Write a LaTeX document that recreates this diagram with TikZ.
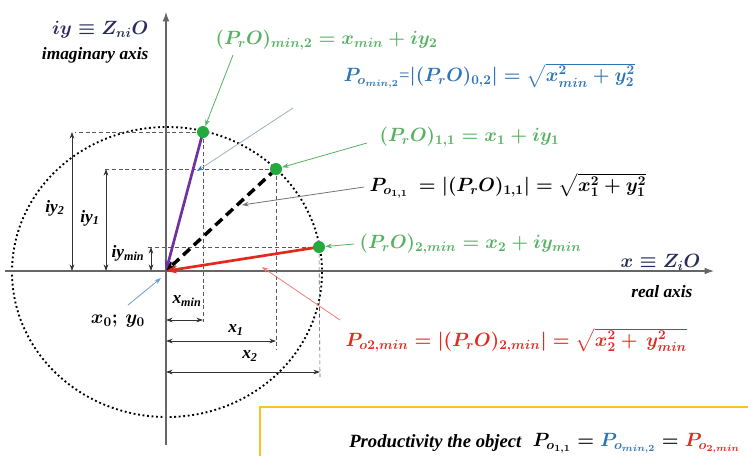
\documentclass[tikz,border=0pt]{standalone}
\usepackage{amsmath}
\usepackage{fontspec}
\setmainfont{Liberation Serif}
\usetikzlibrary{arrows.meta}
\definecolor{fgreen}{RGB}{84,178,96}
\definecolor{dgreen}{RGB}{34,170,60}
\definecolor{fblue}{RGB}{46,117,182}
\definecolor{fred}{RGB}{228,40,30}
\definecolor{navy}{RGB}{40,44,92}
\definecolor{fpurple}{RGB}{112,48,160}
\definecolor{fgold}{RGB}{250,196,30}
\tikzset{
  fml/.style={font=\fontsize{14}{16}\selectfont\boldmath, inner sep=1pt},
  lbl/.style={font=\fontsize{13}{15}\selectfont\bfseries\itshape, inner sep=1pt},
  dlbl/.style={font=\fontsize{13}{15}\selectfont\bfseries\itshape, inner sep=1pt},
  axis/.style={draw=gray!80!black, line width=0.8pt, -{Latex[length=7pt,width=5pt]}},
  guide/.style={draw=gray!70!black, densely dashed, line width=0.45pt},
  dim/.style={draw=black!80, line width=0.6pt, {Stealth[length=5pt,width=3.5pt]}-{Stealth[length=5pt,width=3.5pt]}},
  vdot/.style={circle, fill=dgreen, minimum size=9pt, inner sep=0pt},
  vec/.style={line width=2pt, -{Stealth[length=8pt,width=6pt]}},
  pointer/.style={line width=0.6pt, -{Stealth[length=5pt,width=3.5pt]}},
}
\begin{document}
\begin{tikzpicture}[x=0.75pt,y=-0.75pt]
\clip (0,0) rectangle (748,455);
\fill[white] (0,0) rectangle (748,455);

% key coordinates
\coordinate (O) at (166,271);
\coordinate (p2) at (203,132);
\coordinate (p1) at (276,169);
\coordinate (pm) at (319,247);

% circle
\draw[line width=1.4pt, dotted] (167,272) ellipse [x radius=155, y radius=145];

% guide lines
\coordinate (g2l) at (75,132);
\coordinate (g1l) at (104,169);
\coordinate (gml) at (147,247);
\coordinate (g2d) at (203,322);
\coordinate (g1d) at (276,350);
\coordinate (gmd) at (320,377);
\draw[guide] (p2) -- (g2l);
\draw[guide] (p1) -- (g1l);
\draw[guide] (pm) -- (gml);
\draw[guide] (p2) -- (g2d);
\draw[guide] (p1) -- (g1d);
\draw[guide] (pm) -- (gmd);

% axes
\coordinate (yb) at (166,445);
\coordinate (yt) at (166,12);
\coordinate (xl) at (5,271);
\coordinate (xr) at (714,271);
\draw[axis] (yb) -- (yt);
\draw[axis] (xl) -- (xr);

% vertical dimensions
\coordinate (d2t) at (72,132); \coordinate (d2b) at (72,271);
\coordinate (d1t) at (106,169); \coordinate (d1b) at (106,271);
\coordinate (dmt) at (151,247); \coordinate (dmb) at (151,271);
\draw[dim] (d2t) -- (d2b);
\draw[dim] (d1t) -- (d1b);
\draw[dim] (dmt) -- (dmb);
\node[dlbl] (liy2) at (55,208) {iy\textsubscript{2}};
\node[dlbl] (liy1) at (90,218) {iy\textsubscript{1}};
\node[dlbl] (liym) at (128,253) {iy\textsubscript{min}};

% horizontal dimensions
\coordinate (hml) at (166,320); \coordinate (hmr) at (203,320);
\coordinate (h1l) at (166,341); \coordinate (h1r) at (276,341);
\coordinate (h2l) at (166,372); \coordinate (h2r) at (320,372);
\draw[dim] (hml) -- (hmr);
\draw[dim] (h1l) -- (h1r);
\draw[dim] (h2l) -- (h2r);
\node[dlbl] (lxm) at (187,301) {x\textsubscript{min}};
\node[dlbl] (lx1) at (236,330) {x\textsubscript{1}};
\node[dlbl] (lx2) at (250,356) {x\textsubscript{2}};

% vectors
\draw[vec, fpurple] (p2) -- (O);
\draw[vec, black, line width=2.6pt, dash pattern=on 7pt off 4pt] (p1) -- (O);
\draw[vec, fred] (pm) -- (O);

% points
\node[vdot] (P2) at (p2) {};
\node[vdot] (P1) at (p1) {};
\node[vdot] (Pm) at (pm) {};

% axis labels
\node[fml, text=navy, anchor=east] (yax) at (150,30) {$iy\equiv Z_{ni}O$};
\node[lbl, anchor=east] (yaxt) at (150,55) {imaginary axis};
\node[fml, text=navy, anchor=east] (xax) at (702,262) {$x\equiv Z_{i}O$};
\node[lbl, anchor=east] (xaxt) at (694,292) {real axis};

% origin label
\node[fml] (o0) at (118,321) {$x_0;\,y_0$};
\coordinate (o0s) at (128,305);
\coordinate (o0e) at (161,278);
\draw[pointer, fblue!70] (o0s) -- (o0e);

% formulas
\node[fml, text=fgreen, anchor=west] (f1) at (214,40) {$(P_rO)_{min,2} = x_{min} + iy_2$};
\node[fml, text=fblue, anchor=west] (f2) at (342,76) {$P_{o_{min,2}}$=$\left|(P_rO)_{0,2}\right| = \sqrt{x_{min}^2 + y_2^2}$};
\node[fml, text=fgreen, anchor=west] (f3) at (378,137) {$(P_rO)_{1,1} = x_1 + iy_1$};
\node[fml, text=black, anchor=west] (f4) at (368,186) {$P_{o_{1,1}}\ = \left|(P_rO)_{1,1}\right| = \sqrt{x_1^2 + y_1^2}$};
\node[fml, text=fgreen, anchor=west] (f5) at (358,244) {$(P_rO)_{2,min} = x_2 + iy_{min}$};
\node[fml, text=fred, anchor=west] (f6) at (344,340) {$P_{o2,min} = \left|(P_rO)_{2,min}\right| = \sqrt{x_2^2 +\, y_{min}^2}$};

% pointers from formulas
\coordinate (s1) at (233,55);
\draw[pointer, fgreen] (s1) -- (P2);
\coordinate (s2) at (293,108);
\coordinate (e2) at (197,171);
\draw[pointer, fblue!45!gray!60, -{Stealth[length=5pt,width=3.5pt,color=fblue]}] (s2) -- (e2);
\coordinate (s3) at (367,143);
\draw[pointer, fgreen] (s3) -- (P1);
\coordinate (s4) at (364,187);
\coordinate (e4) at (242,205);
\draw[pointer, black!55] (s4) -- (e4);
\coordinate (s5) at (354,244);
\draw[pointer, fgreen] (s5) -- (Pm);
\coordinate (s6) at (340,320);
\coordinate (e6) at (262,267);
\draw[pointer, fred!60] (s6) -- (e6);

% bottom box
\draw[fgold, line width=1.6pt] (260,407) rectangle (770,480);
\node[fml, anchor=east] (prodm) at (742,443) {$P_{o_{1,1}} = {\color{fblue}P_{o_{min,2}}} = {\color{fred}P_{o_{2,min}}}$};
\node[dlbl, font=\fontsize{14}{16}\selectfont\bfseries\itshape, anchor=east] (prodt) at ([xshift=-6pt]prodm.west) {Productivity the object};
\end{tikzpicture}
\end{document}
